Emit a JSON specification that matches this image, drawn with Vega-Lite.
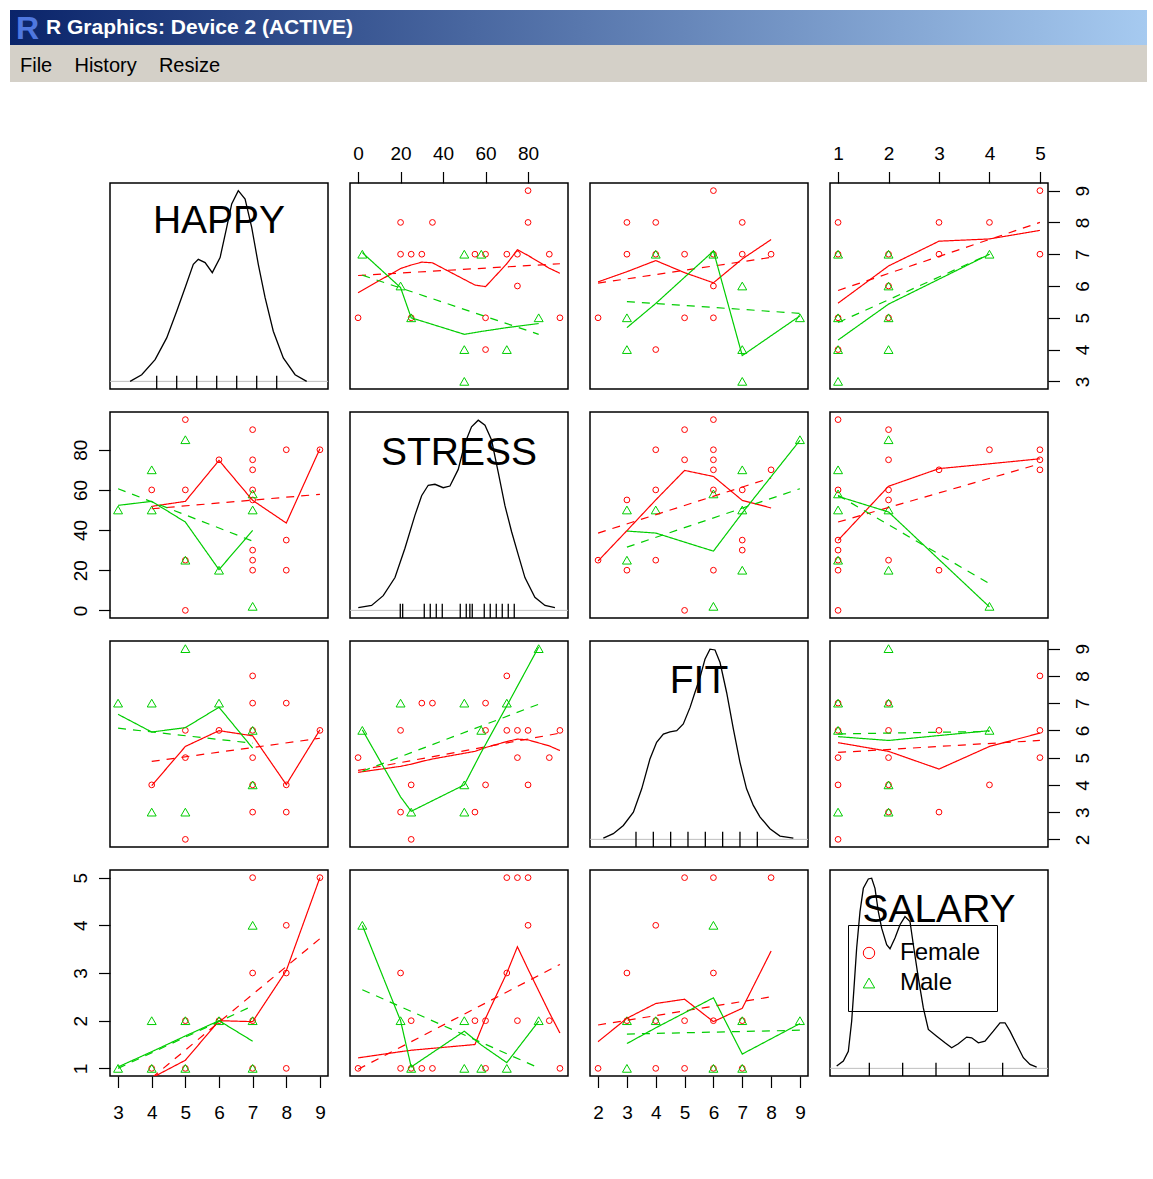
{
"$schema": "https://vega.github.io/schema/vega-lite/v6.json",
"background": "white",
"padding": {"left": 10, "top": 10, "right": 0, "bottom": 0},
"spacing": 61,
"config": {
  "view": {"stroke": "black", "strokeWidth": 1.5},
  "axis": {"domain": false, "grid": false, "tickColor": "black", "tickWidth": 1.2, "tickSize": 11.5, "labelFont": "Liberation Sans", "labelFontSize": 19, "labelColor": "black", "labelFlush": false, "labelOverlap": false, "labelBound": false},
  "axisTop": {"labelPadding": 8},
  "axisBottom": {"labelPadding": 16},
  "axisLeft": {"labelPadding": 8, "labelAngle": -90, "labelAlign": "center", "labelBaseline": "bottom"},
  "axisRight": {"labelPadding": 14, "labelAngle": -90, "labelAlign": "center", "labelBaseline": "top"},
  "legend": {"orient": "none", "legendX": 838, "legendY": 915, "strokeColor": "black", "strokeWidth": 1, "padding": 16, "labelFont": "Liberation Sans", "labelFontSize": 24, "labelColor": "black", "symbolSize": 130, "symbolStrokeWidth": 1, "rowPadding": 6, "labelOffset": 19, "symbolOffset": -7}
},
"datasets": {
  "HS": [
    {"h":9,"s":80,"g":"Female"},{"h":8,"s":20,"g":"Female"},{"h":8,"s":35,"g":"Female"},{"h":8,"s":80,"g":"Female"},{"h":7,"s":20,"g":"Female"},{"h":7,"s":25,"g":"Female"},{"h":7,"s":30,"g":"Female"},{"h":7,"s":55,"g":"Female"},{"h":7,"s":60,"g":"Female"},{"h":7,"s":70,"g":"Female"},{"h":7,"s":75,"g":"Female"},{"h":7,"s":90,"g":"Female"},{"h":6,"s":75,"g":"Female"},{"h":5,"s":0,"g":"Female"},{"h":5,"s":25,"g":"Female"},{"h":5,"s":60,"g":"Female"},{"h":5,"s":95,"g":"Female"},{"h":4,"s":60,"g":"Female"},
    {"h":7,"s":2,"g":"Male"},{"h":7,"s":50,"g":"Male"},{"h":7,"s":58,"g":"Male"},{"h":6,"s":20,"g":"Male"},{"h":5,"s":25,"g":"Male"},{"h":5,"s":85,"g":"Male"},{"h":4,"s":50,"g":"Male"},{"h":4,"s":70,"g":"Male"},{"h":3,"s":50,"g":"Male"}
  ],
  "HF": [
    {"h":9,"f":6,"g":"Female"},{"h":8,"f":3,"g":"Female"},{"h":8,"f":4,"g":"Female"},{"h":8,"f":7,"g":"Female"},{"h":7,"f":3,"g":"Female"},{"h":7,"f":4,"g":"Female"},{"h":7,"f":5,"g":"Female"},{"h":7,"f":6,"g":"Female"},{"h":7,"f":7,"g":"Female"},{"h":7,"f":8,"g":"Female"},{"h":6,"f":6,"g":"Female"},{"h":5,"f":2,"g":"Female"},{"h":5,"f":5,"g":"Female"},{"h":5,"f":6,"g":"Female"},{"h":4,"f":4,"g":"Female"},
    {"h":7,"f":4,"g":"Male"},{"h":7,"f":6,"g":"Male"},{"h":6,"f":7,"g":"Male"},{"h":5,"f":3,"g":"Male"},{"h":5,"f":9,"g":"Male"},{"h":4,"f":3,"g":"Male"},{"h":4,"f":7,"g":"Male"},{"h":3,"f":7,"g":"Male"}
  ],
  "HSal": [
    {"h":9,"sal":5,"g":"Female"},{"h":8,"sal":1,"g":"Female"},{"h":8,"sal":3,"g":"Female"},{"h":8,"sal":4,"g":"Female"},{"h":7,"sal":1,"g":"Female"},{"h":7,"sal":2,"g":"Female"},{"h":7,"sal":3,"g":"Female"},{"h":7,"sal":5,"g":"Female"},{"h":6,"sal":2,"g":"Female"},{"h":5,"sal":1,"g":"Female"},{"h":5,"sal":2,"g":"Female"},{"h":4,"sal":1,"g":"Female"},
    {"h":7,"sal":1,"g":"Male"},{"h":7,"sal":2,"g":"Male"},{"h":7,"sal":4,"g":"Male"},{"h":6,"sal":2,"g":"Male"},{"h":5,"sal":1,"g":"Male"},{"h":5,"sal":2,"g":"Male"},{"h":4,"sal":1,"g":"Male"},{"h":4,"sal":2,"g":"Male"},{"h":3,"sal":1,"g":"Male"}
  ],
  "SF": [
    {"s":95,"f":6,"g":"Female"},{"s":90,"f":5,"g":"Female"},{"s":80,"f":4,"g":"Female"},{"s":80,"f":6,"g":"Female"},{"s":75,"f":5,"g":"Female"},{"s":75,"f":6,"g":"Female"},{"s":70,"f":6,"g":"Female"},{"s":70,"f":8,"g":"Female"},{"s":60,"f":4,"g":"Female"},{"s":60,"f":6,"g":"Female"},{"s":60,"f":7,"g":"Female"},{"s":55,"f":3,"g":"Female"},{"s":35,"f":7,"g":"Female"},{"s":30,"f":7,"g":"Female"},{"s":25,"f":2,"g":"Female"},{"s":25,"f":4,"g":"Female"},{"s":20,"f":3,"g":"Female"},{"s":20,"f":6,"g":"Female"},{"s":0,"f":5,"g":"Female"},
    {"s":85,"f":9,"g":"Male"},{"s":70,"f":7,"g":"Male"},{"s":58,"f":6,"g":"Male"},{"s":50,"f":3,"g":"Male"},{"s":50,"f":4,"g":"Male"},{"s":50,"f":7,"g":"Male"},{"s":25,"f":3,"g":"Male"},{"s":20,"f":7,"g":"Male"},{"s":2,"f":6,"g":"Male"}
  ],
  "SSal": [
    {"s":70,"sal":5,"g":"Female"},{"s":75,"sal":5,"g":"Female"},{"s":80,"sal":5,"g":"Female"},{"s":80,"sal":4,"g":"Female"},{"s":20,"sal":3,"g":"Female"},{"s":70,"sal":3,"g":"Female"},{"s":25,"sal":2,"g":"Female"},{"s":55,"sal":2,"g":"Female"},{"s":60,"sal":2,"g":"Female"},{"s":75,"sal":2,"g":"Female"},{"s":90,"sal":2,"g":"Female"},{"s":0,"sal":1,"g":"Female"},{"s":20,"sal":1,"g":"Female"},{"s":25,"sal":1,"g":"Female"},{"s":30,"sal":1,"g":"Female"},{"s":35,"sal":1,"g":"Female"},{"s":60,"sal":1,"g":"Female"},{"s":95,"sal":1,"g":"Female"},
    {"s":2,"sal":4,"g":"Male"},{"s":20,"sal":2,"g":"Male"},{"s":50,"sal":2,"g":"Male"},{"s":85,"sal":2,"g":"Male"},{"s":25,"sal":1,"g":"Male"},{"s":50,"sal":1,"g":"Male"},{"s":58,"sal":1,"g":"Male"},{"s":70,"sal":1,"g":"Male"}
  ],
  "FSal": [
    {"f":2,"sal":1,"g":"Female"},{"f":3,"sal":2,"g":"Female"},{"f":3,"sal":3,"g":"Female"},{"f":4,"sal":1,"g":"Female"},{"f":4,"sal":2,"g":"Female"},{"f":4,"sal":4,"g":"Female"},{"f":5,"sal":1,"g":"Female"},{"f":5,"sal":2,"g":"Female"},{"f":5,"sal":5,"g":"Female"},{"f":6,"sal":1,"g":"Female"},{"f":6,"sal":2,"g":"Female"},{"f":6,"sal":3,"g":"Female"},{"f":6,"sal":5,"g":"Female"},{"f":7,"sal":1,"g":"Female"},{"f":7,"sal":2,"g":"Female"},{"f":8,"sal":5,"g":"Female"},
    {"f":3,"sal":1,"g":"Male"},{"f":3,"sal":2,"g":"Male"},{"f":4,"sal":2,"g":"Male"},{"f":6,"sal":1,"g":"Male"},{"f":6,"sal":4,"g":"Male"},{"f":7,"sal":1,"g":"Male"},{"f":7,"sal":2,"g":"Male"},{"f":9,"sal":2,"g":"Male"}
  ],
  "lines": [
    {"p":"12","g":"Female","t":"lowess","s":0,"h":5.79},{"p":"12","g":"Female","t":"lowess","s":20,"h":6.55},{"p":"12","g":"Female","t":"lowess","s":25,"h":6.66},{"p":"12","g":"Female","t":"lowess","s":30,"h":6.75},{"p":"12","g":"Female","t":"lowess","s":35,"h":6.73},{"p":"12","g":"Female","t":"lowess","s":55,"h":6.03},{"p":"12","g":"Female","t":"lowess","s":60,"h":5.98},{"p":"12","g":"Female","t":"lowess","s":70,"h":6.7},{"p":"12","g":"Female","t":"lowess","s":75,"h":7.14},{"p":"12","g":"Female","t":"lowess","s":80,"h":6.96},{"p":"12","g":"Female","t":"lowess","s":90,"h":6.56},{"p":"12","g":"Female","t":"lowess","s":95,"h":6.4},
    {"p":"12","g":"Female","t":"reg","s":0,"h":6.33},{"p":"12","g":"Female","t":"reg","s":95,"h":6.7},
    {"p":"12","g":"Male","t":"lowess","s":2,"h":7.05},{"p":"12","g":"Male","t":"lowess","s":20,"h":5.95},{"p":"12","g":"Male","t":"lowess","s":25,"h":5.0},{"p":"12","g":"Male","t":"lowess","s":50,"h":4.48},{"p":"12","g":"Male","t":"lowess","s":58,"h":4.57},{"p":"12","g":"Male","t":"lowess","s":70,"h":4.69},{"p":"12","g":"Male","t":"lowess","s":85,"h":4.82},
    {"p":"12","g":"Male","t":"reg","s":2,"h":6.34},{"p":"12","g":"Male","t":"reg","s":85,"h":4.48},

    {"p":"13","g":"Female","t":"lowess","f":2,"h":6.13},{"p":"13","g":"Female","t":"lowess","f":3,"h":6.45},{"p":"13","g":"Female","t":"lowess","f":4,"h":6.8},{"p":"13","g":"Female","t":"lowess","f":5,"h":6.42},{"p":"13","g":"Female","t":"lowess","f":6,"h":6.1},{"p":"13","g":"Female","t":"lowess","f":7,"h":6.85},{"p":"13","g":"Female","t":"lowess","f":8,"h":7.46},
    {"p":"13","g":"Female","t":"reg","f":2,"h":6.09},{"p":"13","g":"Female","t":"reg","f":8,"h":6.9},
    {"p":"13","g":"Male","t":"lowess","f":3,"h":4.69},{"p":"13","g":"Male","t":"lowess","f":4,"h":5.45},{"p":"13","g":"Male","t":"lowess","f":6,"h":7.1},{"p":"13","g":"Male","t":"lowess","f":7,"h":3.81},{"p":"13","g":"Male","t":"lowess","f":9,"h":5.06},
    {"p":"13","g":"Male","t":"reg","f":3,"h":5.51},{"p":"13","g":"Male","t":"reg","f":9,"h":5.14},

    {"p":"14","g":"Female","t":"lowess","sal":1,"h":5.46},{"p":"14","g":"Female","t":"lowess","sal":2,"h":6.63},{"p":"14","g":"Female","t":"lowess","sal":3,"h":7.41},{"p":"14","g":"Female","t":"lowess","sal":4,"h":7.48},{"p":"14","g":"Female","t":"lowess","sal":5,"h":7.75},
    {"p":"14","g":"Female","t":"reg","sal":1,"h":5.86},{"p":"14","g":"Female","t":"reg","sal":5,"h":8.0},
    {"p":"14","g":"Male","t":"lowess","sal":1,"h":4.3},{"p":"14","g":"Male","t":"lowess","sal":2,"h":5.43},{"p":"14","g":"Male","t":"lowess","sal":4,"h":7.0},
    {"p":"14","g":"Male","t":"reg","sal":1,"h":4.85},{"p":"14","g":"Male","t":"reg","sal":4,"h":7.0},

    {"p":"21","g":"Female","t":"lowess","h":4,"s":51.8},{"p":"21","g":"Female","t":"lowess","h":5,"s":54.3},{"p":"21","g":"Female","t":"lowess","h":6,"s":74.7},{"p":"21","g":"Female","t":"lowess","h":7,"s":54.8},{"p":"21","g":"Female","t":"lowess","h":8,"s":43.5},{"p":"21","g":"Female","t":"lowess","h":9,"s":80.5},
    {"p":"21","g":"Female","t":"reg","h":4,"s":50.6},{"p":"21","g":"Female","t":"reg","h":9,"s":57.8},
    {"p":"21","g":"Male","t":"lowess","h":3,"s":52.3},{"p":"21","g":"Male","t":"lowess","h":4,"s":54.3},{"p":"21","g":"Male","t":"lowess","h":5,"s":44},{"p":"21","g":"Male","t":"lowess","h":6,"s":20.3},{"p":"21","g":"Male","t":"lowess","h":7,"s":39.8},
    {"p":"21","g":"Male","t":"reg","h":3,"s":60.6},{"p":"21","g":"Male","t":"reg","h":7,"s":34.5},

    {"p":"23","g":"Female","t":"lowess","f":2,"s":24.6},{"p":"23","g":"Female","t":"lowess","f":3,"s":39.7},{"p":"23","g":"Female","t":"lowess","f":4,"s":55},{"p":"23","g":"Female","t":"lowess","f":5,"s":69.7},{"p":"23","g":"Female","t":"lowess","f":6,"s":66.7},{"p":"23","g":"Female","t":"lowess","f":7,"s":54.8},{"p":"23","g":"Female","t":"lowess","f":8,"s":51},
    {"p":"23","g":"Female","t":"reg","f":2,"s":38.5},{"p":"23","g":"Female","t":"reg","f":8,"s":66},
    {"p":"23","g":"Male","t":"lowess","f":3,"s":39.5},{"p":"23","g":"Male","t":"lowess","f":4,"s":38.5},{"p":"23","g":"Male","t":"lowess","f":6,"s":29.5},{"p":"23","g":"Male","t":"lowess","f":7,"s":48.5},{"p":"23","g":"Male","t":"lowess","f":9,"s":84.7},
    {"p":"23","g":"Male","t":"reg","f":3,"s":31.5},{"p":"23","g":"Male","t":"reg","f":9,"s":60.6},

    {"p":"24","g":"Female","t":"lowess","sal":1,"s":34.9},{"p":"24","g":"Female","t":"lowess","sal":2,"s":61.8},{"p":"24","g":"Female","t":"lowess","sal":3,"s":70.6},{"p":"24","g":"Female","t":"lowess","sal":4,"s":73},{"p":"24","g":"Female","t":"lowess","sal":5,"s":75.5},
    {"p":"24","g":"Female","t":"reg","sal":1,"s":44},{"p":"24","g":"Female","t":"reg","sal":5,"s":73},
    {"p":"24","g":"Male","t":"lowess","sal":1,"s":56.8},{"p":"24","g":"Male","t":"lowess","sal":2,"s":49},{"p":"24","g":"Male","t":"lowess","sal":4,"s":1.7},
    {"p":"24","g":"Male","t":"reg","sal":1,"s":57.3},{"p":"24","g":"Male","t":"reg","sal":4,"s":13.3},

    {"p":"31","g":"Female","t":"lowess","h":4,"f":3.97},{"p":"31","g":"Female","t":"lowess","h":5,"f":5.41},{"p":"31","g":"Female","t":"lowess","h":6,"f":5.99},{"p":"31","g":"Female","t":"lowess","h":7,"f":5.8},{"p":"31","g":"Female","t":"lowess","h":8,"f":4.01},{"p":"31","g":"Female","t":"lowess","h":9,"f":6.02},
    {"p":"31","g":"Female","t":"reg","h":4,"f":4.86},{"p":"31","g":"Female","t":"reg","h":9,"f":5.71},
    {"p":"31","g":"Male","t":"lowess","h":3,"f":6.59},{"p":"31","g":"Male","t":"lowess","h":4,"f":5.94},{"p":"31","g":"Male","t":"lowess","h":5,"f":6.1},{"p":"31","g":"Male","t":"lowess","h":6,"f":6.85},{"p":"31","g":"Male","t":"lowess","h":7,"f":5.35},
    {"p":"31","g":"Male","t":"reg","h":3,"f":6.08},{"p":"31","g":"Male","t":"reg","h":7,"f":5.53},

    {"p":"32","g":"Female","t":"lowess","s":0,"f":4.46},{"p":"32","g":"Female","t":"lowess","s":20,"f":4.68},{"p":"32","g":"Female","t":"lowess","s":25,"f":4.76},{"p":"32","g":"Female","t":"lowess","s":30,"f":4.86},{"p":"32","g":"Female","t":"lowess","s":35,"f":4.95},{"p":"32","g":"Female","t":"lowess","s":55,"f":5.23},{"p":"32","g":"Female","t":"lowess","s":60,"f":5.37},{"p":"32","g":"Female","t":"lowess","s":70,"f":5.59},{"p":"32","g":"Female","t":"lowess","s":75,"f":5.68},{"p":"32","g":"Female","t":"lowess","s":80,"f":5.65},{"p":"32","g":"Female","t":"lowess","s":90,"f":5.43},{"p":"32","g":"Female","t":"lowess","s":95,"f":5.26},
    {"p":"32","g":"Female","t":"reg","s":0,"f":4.53},{"p":"32","g":"Female","t":"reg","s":95,"f":5.9},
    {"p":"32","g":"Male","t":"lowess","s":2,"f":6.02},{"p":"32","g":"Male","t":"lowess","s":20,"f":3.56},{"p":"32","g":"Male","t":"lowess","s":25,"f":3.03},{"p":"32","g":"Male","t":"lowess","s":50,"f":4.0},{"p":"32","g":"Male","t":"lowess","s":58,"f":5.2},{"p":"32","g":"Male","t":"lowess","s":70,"f":6.9},{"p":"32","g":"Male","t":"lowess","s":85,"f":9.06},
    {"p":"32","g":"Male","t":"reg","s":2,"f":4.5},{"p":"32","g":"Male","t":"reg","s":85,"f":6.96},

    {"p":"34","g":"Female","t":"lowess","sal":1,"f":5.55},{"p":"34","g":"Female","t":"lowess","sal":2,"f":5.23},{"p":"34","g":"Female","t":"lowess","sal":3,"f":4.58},{"p":"34","g":"Female","t":"lowess","sal":4,"f":5.41},{"p":"34","g":"Female","t":"lowess","sal":5,"f":5.9},
    {"p":"34","g":"Female","t":"reg","sal":1,"f":5.19},{"p":"34","g":"Female","t":"reg","sal":5,"f":5.63},
    {"p":"34","g":"Male","t":"lowess","sal":1,"f":5.77},{"p":"34","g":"Male","t":"lowess","sal":2,"f":5.63},{"p":"34","g":"Male","t":"lowess","sal":4,"f":5.99},
    {"p":"34","g":"Male","t":"reg","sal":1,"f":5.87},{"p":"34","g":"Male","t":"reg","sal":4,"f":5.96},

    {"p":"41","g":"Female","t":"lowess","h":4,"sal":0.8},{"p":"41","g":"Female","t":"lowess","h":5,"sal":1.17},{"p":"41","g":"Female","t":"lowess","h":6,"sal":2.0},{"p":"41","g":"Female","t":"lowess","h":7,"sal":1.98},{"p":"41","g":"Female","t":"lowess","h":8,"sal":3.05},{"p":"41","g":"Female","t":"lowess","h":9,"sal":5.0},
    {"p":"41","g":"Female","t":"reg","h":4,"sal":0.8},{"p":"41","g":"Female","t":"reg","h":9,"sal":3.72},
    {"p":"41","g":"Male","t":"lowess","h":3,"sal":1.03},{"p":"41","g":"Male","t":"lowess","h":4,"sal":1.35},{"p":"41","g":"Male","t":"lowess","h":5,"sal":1.68},{"p":"41","g":"Male","t":"lowess","h":6,"sal":2.0},{"p":"41","g":"Male","t":"lowess","h":7,"sal":1.57},
    {"p":"41","g":"Male","t":"reg","h":3,"sal":1.0},{"p":"41","g":"Male","t":"reg","h":7,"sal":2.31},

    {"p":"42","g":"Female","t":"lowess","s":0,"sal":1.22},{"p":"42","g":"Female","t":"lowess","s":20,"sal":1.35},{"p":"42","g":"Female","t":"lowess","s":25,"sal":1.38},{"p":"42","g":"Female","t":"lowess","s":30,"sal":1.4},{"p":"42","g":"Female","t":"lowess","s":35,"sal":1.42},{"p":"42","g":"Female","t":"lowess","s":55,"sal":1.5},{"p":"42","g":"Female","t":"lowess","s":60,"sal":2.05},{"p":"42","g":"Female","t":"lowess","s":70,"sal":3.0},{"p":"42","g":"Female","t":"lowess","s":75,"sal":3.55},{"p":"42","g":"Female","t":"lowess","s":80,"sal":3.08},{"p":"42","g":"Female","t":"lowess","s":90,"sal":2.17},{"p":"42","g":"Female","t":"lowess","s":95,"sal":1.74},
    {"p":"42","g":"Female","t":"reg","s":0,"sal":0.98},{"p":"42","g":"Female","t":"reg","s":95,"sal":3.18},
    {"p":"42","g":"Male","t":"lowess","s":2,"sal":4.0},{"p":"42","g":"Male","t":"lowess","s":20,"sal":2.0},{"p":"42","g":"Male","t":"lowess","s":25,"sal":1.03},{"p":"42","g":"Male","t":"lowess","s":50,"sal":1.78},{"p":"42","g":"Male","t":"lowess","s":58,"sal":1.49},{"p":"42","g":"Male","t":"lowess","s":70,"sal":1.12},{"p":"42","g":"Male","t":"lowess","s":85,"sal":1.99},
    {"p":"42","g":"Male","t":"reg","s":2,"sal":2.65},{"p":"42","g":"Male","t":"reg","s":85,"sal":1.01},

    {"p":"43","g":"Female","t":"lowess","f":2,"sal":1.56},{"p":"43","g":"Female","t":"lowess","f":3,"sal":2.05},{"p":"43","g":"Female","t":"lowess","f":4,"sal":2.36},{"p":"43","g":"Female","t":"lowess","f":5,"sal":2.45},{"p":"43","g":"Female","t":"lowess","f":6,"sal":1.98},{"p":"43","g":"Female","t":"lowess","f":7,"sal":2.26},{"p":"43","g":"Female","t":"lowess","f":8,"sal":3.46},
    {"p":"43","g":"Female","t":"reg","f":2,"sal":1.91},{"p":"43","g":"Female","t":"reg","f":8,"sal":2.5},
    {"p":"43","g":"Male","t":"lowess","f":3,"sal":1.52},{"p":"43","g":"Male","t":"lowess","f":4,"sal":1.85},{"p":"43","g":"Male","t":"lowess","f":6,"sal":2.48},{"p":"43","g":"Male","t":"lowess","f":7,"sal":1.3},{"p":"43","g":"Male","t":"lowess","f":9,"sal":1.94},
    {"p":"43","g":"Male","t":"reg","f":3,"sal":1.72},{"p":"43","g":"Male","t":"reg","f":9,"sal":1.8}
  ],
  "dens": [
    {"v":"HAPPY","x":1.67,"d":0},{"v":"HAPPY","x":2.25,"d":0.035},{"v":"HAPPY","x":2.92,"d":0.114},{"v":"HAPPY","x":3.5,"d":0.228},{"v":"HAPPY","x":4.0,"d":0.368},{"v":"HAPPY","x":4.42,"d":0.491},{"v":"HAPPY","x":4.83,"d":0.614},{"v":"HAPPY","x":5.08,"d":0.64},{"v":"HAPPY","x":5.42,"d":0.623},{"v":"HAPPY","x":5.78,"d":0.57},{"v":"HAPPY","x":6.17,"d":0.649},{"v":"HAPPY","x":6.5,"d":0.807},{"v":"HAPPY","x":6.75,"d":0.93},{"v":"HAPPY","x":7.08,"d":1.0},{"v":"HAPPY","x":7.42,"d":0.956},{"v":"HAPPY","x":7.75,"d":0.807},{"v":"HAPPY","x":8.08,"d":0.614},{"v":"HAPPY","x":8.42,"d":0.439},{"v":"HAPPY","x":8.83,"d":0.263},{"v":"HAPPY","x":9.33,"d":0.123},{"v":"HAPPY","x":9.92,"d":0.035},{"v":"HAPPY","x":10.5,"d":0.0},
    {"v":"STRESS","x":-35,"d":0.014},{"v":"STRESS","x":-23.9,"d":0.026},{"v":"STRESS","x":-14.2,"d":0.077},{"v":"STRESS","x":-4.4,"d":0.172},{"v":"STRESS","x":3.9,"d":0.326},{"v":"STRESS","x":12.2,"d":0.498},{"v":"STRESS","x":17.8,"d":0.601},{"v":"STRESS","x":23.3,"d":0.656},{"v":"STRESS","x":28.9,"d":0.661},{"v":"STRESS","x":35.8,"d":0.643},{"v":"STRESS","x":41.4,"d":0.652},{"v":"STRESS","x":48.3,"d":0.739},{"v":"STRESS","x":53.9,"d":0.876},{"v":"STRESS","x":59.4,"d":0.962},{"v":"STRESS","x":65,"d":0.997},{"v":"STRESS","x":70.6,"d":0.971},{"v":"STRESS","x":76.1,"d":0.893},{"v":"STRESS","x":81.7,"d":0.722},{"v":"STRESS","x":87.2,"d":0.55},{"v":"STRESS","x":92.8,"d":0.412},{"v":"STRESS","x":98.3,"d":0.292},{"v":"STRESS","x":103.9,"d":0.172},{"v":"STRESS","x":112.2,"d":0.069},{"v":"STRESS","x":120.6,"d":0.026},{"v":"STRESS","x":128.9,"d":0.014},
    {"v":"FIT","x":0.115,"d":0.007},{"v":"FIT","x":0.69,"d":0.03},{"v":"FIT","x":1.27,"d":0.073},{"v":"FIT","x":1.85,"d":0.143},{"v":"FIT","x":2.33,"d":0.265},{"v":"FIT","x":2.81,"d":0.423},{"v":"FIT","x":3.19,"d":0.509},{"v":"FIT","x":3.58,"d":0.552},{"v":"FIT","x":3.96,"d":0.564},{"v":"FIT","x":4.35,"d":0.57},{"v":"FIT","x":4.73,"d":0.605},{"v":"FIT","x":5.12,"d":0.692},{"v":"FIT","x":5.4,"d":0.77},{"v":"FIT","x":5.69,"d":0.848},{"v":"FIT","x":5.98,"d":0.944},{"v":"FIT","x":6.27,"d":0.997},{"v":"FIT","x":6.56,"d":0.993},{"v":"FIT","x":6.85,"d":0.927},{"v":"FIT","x":7.23,"d":0.77},{"v":"FIT","x":7.62,"d":0.578},{"v":"FIT","x":8.0,"d":0.404},{"v":"FIT","x":8.38,"d":0.265},{"v":"FIT","x":8.77,"d":0.178},{"v":"FIT","x":9.15,"d":0.118},{"v":"FIT","x":9.73,"d":0.056},{"v":"FIT","x":10.31,"d":0.017},{"v":"FIT","x":11.08,"d":0.007},
    {"v":"SALARY","x":0.02,"d":0.012},{"v":"SALARY","x":0.22,"d":0.038},{"v":"SALARY","x":0.37,"d":0.09},{"v":"SALARY","x":0.47,"d":0.247},{"v":"SALARY","x":0.54,"d":0.422},{"v":"SALARY","x":0.62,"d":0.631},{"v":"SALARY","x":0.72,"d":0.822},{"v":"SALARY","x":0.82,"d":0.944},{"v":"SALARY","x":0.97,"d":0.993},{"v":"SALARY","x":1.07,"d":0.997},{"v":"SALARY","x":1.17,"d":0.944},{"v":"SALARY","x":1.27,"d":0.822},{"v":"SALARY","x":1.37,"d":0.735},{"v":"SALARY","x":1.52,"d":0.648},{"v":"SALARY","x":1.62,"d":0.627},{"v":"SALARY","x":1.77,"d":0.683},{"v":"SALARY","x":1.92,"d":0.753},{"v":"SALARY","x":2.07,"d":0.796},{"v":"SALARY","x":2.22,"d":0.77},{"v":"SALARY","x":2.32,"d":0.648},{"v":"SALARY","x":2.47,"d":0.474},{"v":"SALARY","x":2.62,"d":0.317},{"v":"SALARY","x":2.77,"d":0.204},{"v":"SALARY","x":3.02,"d":0.169},{"v":"SALARY","x":3.27,"d":0.134},{"v":"SALARY","x":3.47,"d":0.108},{"v":"SALARY","x":3.67,"d":0.129},{"v":"SALARY","x":3.92,"d":0.164},{"v":"SALARY","x":4.07,"d":0.16},{"v":"SALARY","x":4.27,"d":0.134},{"v":"SALARY","x":4.47,"d":0.143},{"v":"SALARY","x":4.72,"d":0.195},{"v":"SALARY","x":4.92,"d":0.239},{"v":"SALARY","x":5.07,"d":0.239},{"v":"SALARY","x":5.22,"d":0.195},{"v":"SALARY","x":5.42,"d":0.125},{"v":"SALARY","x":5.62,"d":0.056},{"v":"SALARY","x":5.82,"d":0.021},{"v":"SALARY","x":6.02,"d":0.007}
  ],
  "rug": [
    {"v":"HAPPY","x":3},{"v":"HAPPY","x":4},{"v":"HAPPY","x":5},{"v":"HAPPY","x":6},{"v":"HAPPY","x":7},{"v":"HAPPY","x":8},{"v":"HAPPY","x":9},
    {"v":"STRESS","x":0},{"v":"STRESS","x":2},{"v":"STRESS","x":20},{"v":"STRESS","x":25},{"v":"STRESS","x":30},{"v":"STRESS","x":35},{"v":"STRESS","x":50},{"v":"STRESS","x":55},{"v":"STRESS","x":58},{"v":"STRESS","x":60},{"v":"STRESS","x":70},{"v":"STRESS","x":75},{"v":"STRESS","x":80},{"v":"STRESS","x":85},{"v":"STRESS","x":90},{"v":"STRESS","x":95},
    {"v":"FIT","x":2},{"v":"FIT","x":3},{"v":"FIT","x":4},{"v":"FIT","x":5},{"v":"FIT","x":6},{"v":"FIT","x":7},{"v":"FIT","x":8},{"v":"FIT","x":9},
    {"v":"SALARY","x":1},{"v":"SALARY","x":2},{"v":"SALARY","x":3},{"v":"SALARY","x":4},{"v":"SALARY","x":5}
  ],
  "labels": [
    {"v":"HAPPY","label":"HAPPY"},{"v":"STRESS","label":"STRESS"},{"v":"FIT","label":"FIT"},{"v":"SALARY","label":"SALARY"}
  ]
},
"vconcat": [
  {
    "spacing": 0,
    "vconcat": [
      {
        "width": 1137, "height": 35,
        "view": {"stroke": null},
        "data": {"values": [{"w": "R Graphics: Device 2 (ACTIVE)", "icon": "R"}]},
        "encoding": {"x": {"datum": 0, "type": "quantitative", "scale": {"domain": [0, 1], "nice": false, "zero": false}, "axis": null}},
        "layer": [
          {"mark": {"type": "rect", "color": {"gradient": "linear", "x1": 0, "y1": 0, "x2": 1, "y2": 0, "stops": [{"offset": 0, "color": "#0A246A"}, {"offset": 1, "color": "#A6CAF0"}]}}, "encoding": {"x2": {"datum": 1}}},
          {"mark": {"type": "text", "align": "left", "baseline": "middle", "dx": 6, "dy": 1, "color": "#4F78E0", "font": "Liberation Sans", "fontSize": 32, "fontWeight": "bold"}, "encoding": {"text": {"field": "icon"}}},
          {"mark": {"type": "text", "align": "left", "baseline": "middle", "dx": 36, "color": "white", "font": "Liberation Sans", "fontSize": 21, "fontWeight": "bold"}, "encoding": {"text": {"field": "w"}}}
        ]
      },
      {
        "width": 1137, "height": 37,
        "view": {"stroke": null},
        "data": {"values": [{"w": "File\u00a0\u00a0\u00a0\u00a0History\u00a0\u00a0\u00a0\u00a0Resize"}]},
        "encoding": {"x": {"datum": 0, "type": "quantitative", "scale": {"domain": [0, 1], "nice": false, "zero": false}, "axis": null}},
        "layer": [
          {"mark": {"type": "rect", "color": "#D4D0C8"}, "encoding": {"x2": {"datum": 1}}},
          {"mark": {"type": "text", "align": "left", "baseline": "middle", "dx": 10, "dy": 2, "color": "black", "font": "Liberation Sans", "fontSize": 20}, "encoding": {"text": {"field": "w"}}}
        ]
      }
    ]
  },
  {
    "spacing": 0,
    "hconcat": [
      {"width": 60, "height": 10, "view": {"stroke": null}, "data": {"values": []}, "mark": "point"},
      {
    "columns": 4,
    "spacing": {"row": 23, "column": 22},
    "bounds": "flush",
    "concat": [
      {"width":218,"height":206,"layer":[
        {"data":{"name":"labels"},"transform":[{"filter":"datum.v == 'HAPPY'"}],"mark":{"type":"rule","color":"#BEBEBE","strokeWidth":1},"encoding":{"y":{"datum":0,"type":"quantitative","scale":{"domain":[-0.04,1.04],"nice":false,"zero":false},"axis":null}}},
        {"data":{"name":"dens"},"transform":[{"filter":"datum.v == 'HAPPY'"}],"mark":{"type":"line","color":"black","strokeWidth":1.3},"encoding":{"x":{"field":"x","type":"quantitative","scale":{"domain":[0.665,11.565],"nice":false,"zero":false},"axis":null},"y":{"field":"d","type":"quantitative","scale":{"domain":[-0.04,1.04],"nice":false,"zero":false},"axis":null}}},
        {"data":{"name":"rug"},"transform":[{"filter":"datum.v == 'HAPPY'"}],"mark":{"type":"rule","color":"black","strokeWidth":1.3},"encoding":{"x":{"field":"x","type":"quantitative","axis":null},"y":{"datum":-0.04,"type":"quantitative","axis":null},"y2":{"datum":0.03}}},
        {"data":{"name":"labels"},"transform":[{"filter":"datum.v == 'HAPPY'"}],"mark":{"type":"text","font":"Liberation Sans","fontSize":39,"color":"black","align":"center","baseline":"alphabetic"},"encoding":{"y":{"datum":0.778,"type":"quantitative","axis":null},"text":{"field":"label"}}}
      ]},
      {"width":218,"height":206,
        "encoding":{
          "x":{"field":"s","type":"quantitative","title":null,"scale":{"domain":[-3.8,98.8],"nice":false,"zero":false},"axis":{"orient":"top","values":[0,20,40,60,80]}},
          "y":{"field":"h","type":"quantitative","title":null,"scale":{"domain":[2.76,9.24],"nice":false,"zero":false},"axis":null}},
        "layer":[
        {"data":{"name":"HS"},"mark":{"type":"point","filled":false,"strokeWidth":1,"opacity":1},"encoding":{
          "color":{"field":"g","type":"nominal","scale":{"domain":["Female","Male"],"range":["#FF0000","#00CD00"]},"legend":{"title":null}},
          "shape":{"field":"g","type":"nominal","scale":{"domain":["Female","Male"],"range":["circle","triangle-up"]},"legend":{"title":null}},
          "size":{"field":"g","type":"ordinal","scale":{"domain":["Male","Female"],"range":[80,33]},"legend":null}}},
        {"data":{"name":"lines"},"transform":[{"filter":"datum.p == '12'"}],"mark":{"type":"line","strokeWidth":1.2,"clip":true},"encoding":{
          "color":{"field":"g","type":"nominal","legend":null},
          "strokeDash":{"field":"t","type":"nominal","scale":{"domain":["lowess","reg"],"range":[[1,0],[8,7]]},"legend":null}}}
      ]},
      {"width":218,"height":206,
        "encoding":{
          "x":{"field":"f","type":"quantitative","title":null,"scale":{"domain":[1.72,9.28],"nice":false,"zero":false},"axis":null},
          "y":{"field":"h","type":"quantitative","title":null,"scale":{"domain":[2.76,9.24],"nice":false,"zero":false},"axis":null}},
        "layer":[
        {"data":{"name":"HF"},"mark":{"type":"point","filled":false,"strokeWidth":1,"opacity":1},"encoding":{
          "color":{"field":"g","type":"nominal","scale":{"domain":["Female","Male"],"range":["#FF0000","#00CD00"]},"legend":{"title":null}},
          "shape":{"field":"g","type":"nominal","scale":{"domain":["Female","Male"],"range":["circle","triangle-up"]},"legend":{"title":null}},
          "size":{"field":"g","type":"ordinal","scale":{"domain":["Male","Female"],"range":[80,33]},"legend":null}}},
        {"data":{"name":"lines"},"transform":[{"filter":"datum.p == '13'"}],"mark":{"type":"line","strokeWidth":1.2,"clip":true},"encoding":{
          "color":{"field":"g","type":"nominal","legend":null},
          "strokeDash":{"field":"t","type":"nominal","scale":{"domain":["lowess","reg"],"range":[[1,0],[8,7]]},"legend":null}}}
      ]},
      {"width":218,"height":206,
        "encoding":{
          "x":{"field":"sal","type":"quantitative","title":null,"scale":{"domain":[0.84,5.16],"nice":false,"zero":false},"axis":{"orient":"top","values":[1,2,3,4,5]}},
          "y":{"field":"h","type":"quantitative","title":null,"scale":{"domain":[2.76,9.24],"nice":false,"zero":false},"axis":{"orient":"right","values":[3,4,5,6,7,8,9]}}},
        "layer":[
        {"data":{"name":"HSal"},"mark":{"type":"point","filled":false,"strokeWidth":1,"opacity":1},"encoding":{
          "color":{"field":"g","type":"nominal","scale":{"domain":["Female","Male"],"range":["#FF0000","#00CD00"]},"legend":{"title":null}},
          "shape":{"field":"g","type":"nominal","scale":{"domain":["Female","Male"],"range":["circle","triangle-up"]},"legend":{"title":null}},
          "size":{"field":"g","type":"ordinal","scale":{"domain":["Male","Female"],"range":[80,33]},"legend":null}}},
        {"data":{"name":"lines"},"transform":[{"filter":"datum.p == '14'"}],"mark":{"type":"line","strokeWidth":1.2,"clip":true},"encoding":{
          "color":{"field":"g","type":"nominal","legend":null},
          "strokeDash":{"field":"t","type":"nominal","scale":{"domain":["lowess","reg"],"range":[[1,0],[8,7]]},"legend":null}}}
      ]},

      {"width":218,"height":206,
        "encoding":{
          "x":{"field":"h","type":"quantitative","title":null,"scale":{"domain":[2.76,9.24],"nice":false,"zero":false},"axis":null},
          "y":{"field":"s","type":"quantitative","title":null,"scale":{"domain":[-3.8,98.8],"nice":false,"zero":false},"axis":{"orient":"left","values":[0,20,40,60,80]}}},
        "layer":[
        {"data":{"name":"HS"},"mark":{"type":"point","filled":false,"strokeWidth":1,"opacity":1},"encoding":{
          "color":{"field":"g","type":"nominal","scale":{"domain":["Female","Male"],"range":["#FF0000","#00CD00"]},"legend":{"title":null}},
          "shape":{"field":"g","type":"nominal","scale":{"domain":["Female","Male"],"range":["circle","triangle-up"]},"legend":{"title":null}},
          "size":{"field":"g","type":"ordinal","scale":{"domain":["Male","Female"],"range":[80,33]},"legend":null}}},
        {"data":{"name":"lines"},"transform":[{"filter":"datum.p == '21'"}],"mark":{"type":"line","strokeWidth":1.2,"clip":true},"encoding":{
          "color":{"field":"g","type":"nominal","legend":null},
          "strokeDash":{"field":"t","type":"nominal","scale":{"domain":["lowess","reg"],"range":[[1,0],[8,7]]},"legend":null}}}
      ]},
      {"width":218,"height":206,"layer":[
        {"data":{"name":"labels"},"transform":[{"filter":"datum.v == 'STRESS'"}],"mark":{"type":"rule","color":"#BEBEBE","strokeWidth":1},"encoding":{"y":{"datum":0,"type":"quantitative","scale":{"domain":[-0.04,1.04],"nice":false,"zero":false},"axis":null}}},
        {"data":{"name":"dens"},"transform":[{"filter":"datum.v == 'STRESS'"}],"mark":{"type":"line","color":"black","strokeWidth":1.3},"encoding":{"x":{"field":"x","type":"quantitative","scale":{"domain":[-41.9,139.8],"nice":false,"zero":false},"axis":null},"y":{"field":"d","type":"quantitative","scale":{"domain":[-0.04,1.04],"nice":false,"zero":false},"axis":null}}},
        {"data":{"name":"rug"},"transform":[{"filter":"datum.v == 'STRESS'"}],"mark":{"type":"rule","color":"black","strokeWidth":1.3},"encoding":{"x":{"field":"x","type":"quantitative","axis":null},"y":{"datum":-0.04,"type":"quantitative","axis":null},"y2":{"datum":0.035}}},
        {"data":{"name":"labels"},"transform":[{"filter":"datum.v == 'STRESS'"}],"mark":{"type":"text","font":"Liberation Sans","fontSize":39,"color":"black","align":"center","baseline":"alphabetic"},"encoding":{"y":{"datum":0.762,"type":"quantitative","axis":null},"text":{"field":"label"}}}
      ]},
      {"width":218,"height":206,
        "encoding":{
          "x":{"field":"f","type":"quantitative","title":null,"scale":{"domain":[1.72,9.28],"nice":false,"zero":false},"axis":null},
          "y":{"field":"s","type":"quantitative","title":null,"scale":{"domain":[-3.8,98.8],"nice":false,"zero":false},"axis":null}},
        "layer":[
        {"data":{"name":"SF"},"mark":{"type":"point","filled":false,"strokeWidth":1,"opacity":1},"encoding":{
          "color":{"field":"g","type":"nominal","scale":{"domain":["Female","Male"],"range":["#FF0000","#00CD00"]},"legend":{"title":null}},
          "shape":{"field":"g","type":"nominal","scale":{"domain":["Female","Male"],"range":["circle","triangle-up"]},"legend":{"title":null}},
          "size":{"field":"g","type":"ordinal","scale":{"domain":["Male","Female"],"range":[80,33]},"legend":null}}},
        {"data":{"name":"lines"},"transform":[{"filter":"datum.p == '23'"}],"mark":{"type":"line","strokeWidth":1.2,"clip":true},"encoding":{
          "color":{"field":"g","type":"nominal","legend":null},
          "strokeDash":{"field":"t","type":"nominal","scale":{"domain":["lowess","reg"],"range":[[1,0],[8,7]]},"legend":null}}}
      ]},
      {"width":218,"height":206,
        "encoding":{
          "x":{"field":"sal","type":"quantitative","title":null,"scale":{"domain":[0.84,5.16],"nice":false,"zero":false},"axis":null},
          "y":{"field":"s","type":"quantitative","title":null,"scale":{"domain":[-3.8,98.8],"nice":false,"zero":false},"axis":null}},
        "layer":[
        {"data":{"name":"SSal"},"mark":{"type":"point","filled":false,"strokeWidth":1,"opacity":1},"encoding":{
          "color":{"field":"g","type":"nominal","scale":{"domain":["Female","Male"],"range":["#FF0000","#00CD00"]},"legend":{"title":null}},
          "shape":{"field":"g","type":"nominal","scale":{"domain":["Female","Male"],"range":["circle","triangle-up"]},"legend":{"title":null}},
          "size":{"field":"g","type":"ordinal","scale":{"domain":["Male","Female"],"range":[80,33]},"legend":null}}},
        {"data":{"name":"lines"},"transform":[{"filter":"datum.p == '24'"}],"mark":{"type":"line","strokeWidth":1.2,"clip":true},"encoding":{
          "color":{"field":"g","type":"nominal","legend":null},
          "strokeDash":{"field":"t","type":"nominal","scale":{"domain":["lowess","reg"],"range":[[1,0],[8,7]]},"legend":null}}}
      ]},

      {"width":218,"height":206,
        "encoding":{
          "x":{"field":"h","type":"quantitative","title":null,"scale":{"domain":[2.76,9.24],"nice":false,"zero":false},"axis":null},
          "y":{"field":"f","type":"quantitative","title":null,"scale":{"domain":[1.72,9.28],"nice":false,"zero":false},"axis":null}},
        "layer":[
        {"data":{"name":"HF"},"mark":{"type":"point","filled":false,"strokeWidth":1,"opacity":1},"encoding":{
          "color":{"field":"g","type":"nominal","scale":{"domain":["Female","Male"],"range":["#FF0000","#00CD00"]},"legend":{"title":null}},
          "shape":{"field":"g","type":"nominal","scale":{"domain":["Female","Male"],"range":["circle","triangle-up"]},"legend":{"title":null}},
          "size":{"field":"g","type":"ordinal","scale":{"domain":["Male","Female"],"range":[80,33]},"legend":null}}},
        {"data":{"name":"lines"},"transform":[{"filter":"datum.p == '31'"}],"mark":{"type":"line","strokeWidth":1.2,"clip":true},"encoding":{
          "color":{"field":"g","type":"nominal","legend":null},
          "strokeDash":{"field":"t","type":"nominal","scale":{"domain":["lowess","reg"],"range":[[1,0],[8,7]]},"legend":null}}}
      ]},
      {"width":218,"height":206,
        "encoding":{
          "x":{"field":"s","type":"quantitative","title":null,"scale":{"domain":[-3.8,98.8],"nice":false,"zero":false},"axis":null},
          "y":{"field":"f","type":"quantitative","title":null,"scale":{"domain":[1.72,9.28],"nice":false,"zero":false},"axis":null}},
        "layer":[
        {"data":{"name":"SF"},"mark":{"type":"point","filled":false,"strokeWidth":1,"opacity":1},"encoding":{
          "color":{"field":"g","type":"nominal","scale":{"domain":["Female","Male"],"range":["#FF0000","#00CD00"]},"legend":{"title":null}},
          "shape":{"field":"g","type":"nominal","scale":{"domain":["Female","Male"],"range":["circle","triangle-up"]},"legend":{"title":null}},
          "size":{"field":"g","type":"ordinal","scale":{"domain":["Male","Female"],"range":[80,33]},"legend":null}}},
        {"data":{"name":"lines"},"transform":[{"filter":"datum.p == '32'"}],"mark":{"type":"line","strokeWidth":1.2,"clip":true},"encoding":{
          "color":{"field":"g","type":"nominal","legend":null},
          "strokeDash":{"field":"t","type":"nominal","scale":{"domain":["lowess","reg"],"range":[[1,0],[8,7]]},"legend":null}}}
      ]},
      {"width":218,"height":206,"layer":[
        {"data":{"name":"labels"},"transform":[{"filter":"datum.v == 'FIT'"}],"mark":{"type":"rule","color":"#BEBEBE","strokeWidth":1},"encoding":{"y":{"datum":0,"type":"quantitative","scale":{"domain":[-0.04,1.04],"nice":false,"zero":false},"axis":null}}},
        {"data":{"name":"dens"},"transform":[{"filter":"datum.v == 'FIT'"}],"mark":{"type":"line","color":"black","strokeWidth":1.3},"encoding":{"x":{"field":"x","type":"quantitative","scale":{"domain":[-0.654,11.925],"nice":false,"zero":false},"axis":null},"y":{"field":"d","type":"quantitative","scale":{"domain":[-0.04,1.04],"nice":false,"zero":false},"axis":null}}},
        {"data":{"name":"rug"},"transform":[{"filter":"datum.v == 'FIT'"}],"mark":{"type":"rule","color":"black","strokeWidth":1.3},"encoding":{"x":{"field":"x","type":"quantitative","axis":null},"y":{"datum":-0.04,"type":"quantitative","axis":null},"y2":{"datum":0.04}}},
        {"data":{"name":"labels"},"transform":[{"filter":"datum.v == 'FIT'"}],"mark":{"type":"text","font":"Liberation Sans","fontSize":39,"color":"black","align":"center","baseline":"alphabetic"},"encoding":{"y":{"datum":0.767,"type":"quantitative","axis":null},"text":{"field":"label"}}}
      ]},
      {"width":218,"height":206,
        "encoding":{
          "x":{"field":"sal","type":"quantitative","title":null,"scale":{"domain":[0.84,5.16],"nice":false,"zero":false},"axis":null},
          "y":{"field":"f","type":"quantitative","title":null,"scale":{"domain":[1.72,9.28],"nice":false,"zero":false},"axis":{"orient":"right","values":[2,3,4,5,6,7,8,9]}}},
        "layer":[
        {"data":{"name":"FSal"},"mark":{"type":"point","filled":false,"strokeWidth":1,"opacity":1},"encoding":{
          "color":{"field":"g","type":"nominal","scale":{"domain":["Female","Male"],"range":["#FF0000","#00CD00"]},"legend":{"title":null}},
          "shape":{"field":"g","type":"nominal","scale":{"domain":["Female","Male"],"range":["circle","triangle-up"]},"legend":{"title":null}},
          "size":{"field":"g","type":"ordinal","scale":{"domain":["Male","Female"],"range":[80,33]},"legend":null}}},
        {"data":{"name":"lines"},"transform":[{"filter":"datum.p == '34'"}],"mark":{"type":"line","strokeWidth":1.2,"clip":true},"encoding":{
          "color":{"field":"g","type":"nominal","legend":null},
          "strokeDash":{"field":"t","type":"nominal","scale":{"domain":["lowess","reg"],"range":[[1,0],[8,7]]},"legend":null}}}
      ]},

      {"width":218,"height":206,
        "encoding":{
          "x":{"field":"h","type":"quantitative","title":null,"scale":{"domain":[2.76,9.24],"nice":false,"zero":false},"axis":{"orient":"bottom","values":[3,4,5,6,7,8,9]}},
          "y":{"field":"sal","type":"quantitative","title":null,"scale":{"domain":[0.84,5.16],"nice":false,"zero":false},"axis":{"orient":"left","values":[1,2,3,4,5]}}},
        "layer":[
        {"data":{"name":"HSal"},"mark":{"type":"point","filled":false,"strokeWidth":1,"opacity":1},"encoding":{
          "color":{"field":"g","type":"nominal","scale":{"domain":["Female","Male"],"range":["#FF0000","#00CD00"]},"legend":{"title":null}},
          "shape":{"field":"g","type":"nominal","scale":{"domain":["Female","Male"],"range":["circle","triangle-up"]},"legend":{"title":null}},
          "size":{"field":"g","type":"ordinal","scale":{"domain":["Male","Female"],"range":[80,33]},"legend":null}}},
        {"data":{"name":"lines"},"transform":[{"filter":"datum.p == '41'"}],"mark":{"type":"line","strokeWidth":1.2,"clip":true},"encoding":{
          "color":{"field":"g","type":"nominal","legend":null},
          "strokeDash":{"field":"t","type":"nominal","scale":{"domain":["lowess","reg"],"range":[[1,0],[8,7]]},"legend":null}}}
      ]},
      {"width":218,"height":206,
        "encoding":{
          "x":{"field":"s","type":"quantitative","title":null,"scale":{"domain":[-3.8,98.8],"nice":false,"zero":false},"axis":null},
          "y":{"field":"sal","type":"quantitative","title":null,"scale":{"domain":[0.84,5.16],"nice":false,"zero":false},"axis":null}},
        "layer":[
        {"data":{"name":"SSal"},"mark":{"type":"point","filled":false,"strokeWidth":1,"opacity":1},"encoding":{
          "color":{"field":"g","type":"nominal","scale":{"domain":["Female","Male"],"range":["#FF0000","#00CD00"]},"legend":{"title":null}},
          "shape":{"field":"g","type":"nominal","scale":{"domain":["Female","Male"],"range":["circle","triangle-up"]},"legend":{"title":null}},
          "size":{"field":"g","type":"ordinal","scale":{"domain":["Male","Female"],"range":[80,33]},"legend":null}}},
        {"data":{"name":"lines"},"transform":[{"filter":"datum.p == '42'"}],"mark":{"type":"line","strokeWidth":1.2,"clip":true},"encoding":{
          "color":{"field":"g","type":"nominal","legend":null},
          "strokeDash":{"field":"t","type":"nominal","scale":{"domain":["lowess","reg"],"range":[[1,0],[8,7]]},"legend":null}}}
      ]},
      {"width":218,"height":206,
        "encoding":{
          "x":{"field":"f","type":"quantitative","title":null,"scale":{"domain":[1.72,9.28],"nice":false,"zero":false},"axis":{"orient":"bottom","values":[2,3,4,5,6,7,8,9]}},
          "y":{"field":"sal","type":"quantitative","title":null,"scale":{"domain":[0.84,5.16],"nice":false,"zero":false},"axis":null}},
        "layer":[
        {"data":{"name":"FSal"},"mark":{"type":"point","filled":false,"strokeWidth":1,"opacity":1},"encoding":{
          "color":{"field":"g","type":"nominal","scale":{"domain":["Female","Male"],"range":["#FF0000","#00CD00"]},"legend":{"title":null}},
          "shape":{"field":"g","type":"nominal","scale":{"domain":["Female","Male"],"range":["circle","triangle-up"]},"legend":{"title":null}},
          "size":{"field":"g","type":"ordinal","scale":{"domain":["Male","Female"],"range":[80,33]},"legend":null}}},
        {"data":{"name":"lines"},"transform":[{"filter":"datum.p == '43'"}],"mark":{"type":"line","strokeWidth":1.2,"clip":true},"encoding":{
          "color":{"field":"g","type":"nominal","legend":null},
          "strokeDash":{"field":"t","type":"nominal","scale":{"domain":["lowess","reg"],"range":[[1,0],[8,7]]},"legend":null}}}
      ]},
      {"width":218,"height":206,"layer":[
        {"data":{"name":"labels"},"transform":[{"filter":"datum.v == 'SALARY'"}],"mark":{"type":"rule","color":"#BEBEBE","strokeWidth":1},"encoding":{"y":{"datum":0,"type":"quantitative","scale":{"domain":[-0.04,1.04],"nice":false,"zero":false},"axis":null}}},
        {"data":{"name":"dens"},"transform":[{"filter":"datum.v == 'SALARY'"}],"mark":{"type":"line","color":"black","strokeWidth":1.3},"encoding":{"x":{"field":"x","type":"quantitative","scale":{"domain":[-0.18,6.36],"nice":false,"zero":false},"axis":null},"y":{"field":"d","type":"quantitative","scale":{"domain":[-0.04,1.04],"nice":false,"zero":false},"axis":null}}},
        {"data":{"name":"rug"},"transform":[{"filter":"datum.v == 'SALARY'"}],"mark":{"type":"rule","color":"black","strokeWidth":1.3},"encoding":{"x":{"field":"x","type":"quantitative","axis":null},"y":{"datum":-0.04,"type":"quantitative","axis":null},"y2":{"datum":0.03}}},
        {"data":{"name":"labels"},"transform":[{"filter":"datum.v == 'SALARY'"}],"mark":{"type":"text","font":"Liberation Sans","fontSize":39,"color":"black","align":"center","baseline":"alphabetic"},"encoding":{"y":{"datum":0.767,"type":"quantitative","axis":null},"text":{"field":"label"}}}
      ]}
    ]
      }
    ]
  }
]
}
